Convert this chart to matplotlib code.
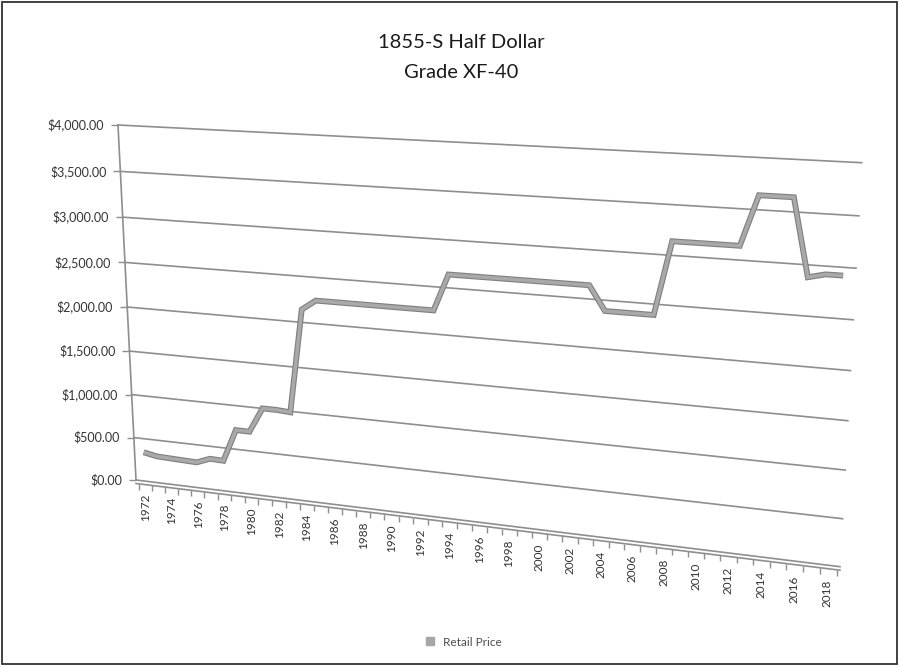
import numpy as np
import matplotlib
matplotlib.use("Agg")
import matplotlib.pyplot as plt
import matplotlib.transforms as mtransforms
import matplotlib.lines as mlines
from matplotlib.patches import Rectangle

# data (values as seen against the back wall)
years = list(range(1972, 2019))
retail_price = [340, 310, 305, 300, 295, 355, 350, 720, 720, 1000,
                1000, 990, 2140, 2250, 2250, 2250, 2250, 2250, 2250, 2250,
                2250, 2250, 2640, 2640, 2640, 2640, 2640, 2640, 2640, 2640,
                2640, 2640, 2390, 2390, 2390, 2390, 3140, 3140, 3140, 3140,
                3140, 3640, 3640, 3640, 2880, 2920, 2920]
y_ticks = [0, 500, 1000, 1500, 2000, 2500, 3000, 3500, 4000]
x_labels = years[::2]
title_lines = ["1855-S Half Dollar", "Grade XF-40"]
series_name = "Retail Price"

# fake 3d wall: category range and where its corners land on the page (px)
U0, U1, VMAX = 1971.3, 2018.7, 4000
wall_src = [(0, 0), (0, 1), (1, 1), (1, 0)]
wall_dst = [(136, 480), (118, 125), (861.7, 162.7), (840, 566.7)]


def homography(src, dst):
    A, b = [], []
    for (s, t), (x, y) in zip(src, dst):
        A.append([s, t, 1, 0, 0, 0, -s * x, -t * x])
        A.append([0, 0, 0, s, t, 1, -s * y, -t * y])
        b += [x, y]
    h = np.linalg.solve(np.array(A, float), np.array(b, float))
    return np.append(h, 1).reshape(3, 3)


class Persp(mtransforms.Transform):
    input_dims = output_dims = 2

    def __init__(self, M):
        super().__init__()
        self.M = M

    def transform_non_affine(self, xy):
        xy = np.asarray(xy, float).reshape(-1, 2)
        p = np.column_stack([xy, np.ones(len(xy))]) @ self.M.T
        return p[:, :2] / p[:, 2:3]


plt.rcParams['font.family'] = ['Lato', 'DejaVu Sans']

fig = plt.figure(figsize=(9, 6.67), dpi=100)
ax = fig.add_axes([0, 0, 1, 1])
ax.set_xlim(0, 900)
ax.set_ylim(667, 0)
ax.axis('off')

norm = mtransforms.Affine2D().translate(-U0, 0).scale(1 / (U1 - U0), 1 / VMAX)
T = norm + Persp(homography(wall_src, wall_dst)) + ax.transData

grid_c = '#8e8e8e'
# gridlines on the back wall
for v in y_ticks[1:]:
    ax.plot([U0, U1], [v, v], color=grid_c, lw=1.2, transform=T)

# floor (back edge + front edge) with ticks
front = mtransforms.offset_copy(T, fig=fig, x=0, y=-3.5, units='dots')
ax.plot([U0, U1], [0, 0], color=grid_c, lw=1.2, transform=T)
ax.plot([U0, U1], [0, 0], color=grid_c, lw=1.2, transform=front)
edges = np.arange(1971.5, 2019.0, 1.0)
ax.plot(edges, np.zeros_like(edges), ls='none', marker=mlines.TICKDOWN,
        ms=4, mew=1, color=grid_c, transform=front)

# value axis
ax.plot([U0, U0], [0, VMAX], color=grid_c, lw=1.2, transform=T)
ax.plot([U0] * len(y_ticks), y_ticks, ls='none', marker=mlines.TICKLEFT,
        ms=5, mew=1, color=grid_c, transform=T)
ylab_t = mtransforms.offset_copy(T, fig=fig, x=-14, y=0, units='dots')
for v in y_ticks:
    ax.text(U0, v, f"${v:,.2f}", transform=ylab_t, ha='right', va='center',
            fontsize=9, color='#333333')

# category labels
for yr in x_labels:
    ax.text(yr, -150, str(yr), transform=T, rotation=90, ha='center',
            va='top', fontsize=8.5, color='#333333')

# the series (a shaded ribbon look)
ax.plot(years, retail_price, color='#7f7f7f', lw=4.2, transform=T,
        solid_joinstyle='miter', solid_capstyle='butt')
ax.plot(years, retail_price, color='#a9a9a9', lw=2.6, transform=T,
        solid_joinstyle='miter', solid_capstyle='butt')

ax.text(461, 43, title_lines[0], ha='center', va='center', fontsize=14.5,
        color='#1a1a1a')
ax.text(461, 72, title_lines[1], ha='center', va='center', fontsize=14.5,
        color='#1a1a1a')

handle = mlines.Line2D([], [], color='#a6a6a6', marker='s', ls='none', ms=6)
ax.legend([handle], [series_name], loc='center',
          bbox_to_anchor=(460 / 900, 1 - 642 / 667), frameon=False,
          handletextpad=0.05, fontsize=8.5, labelcolor='#4d4d4d')

ax.add_patch(Rectangle((2, 2), 895, 662, fill=False, lw=1.3, ec='#333333'))

fig.savefig('out.png', dpi=100)
